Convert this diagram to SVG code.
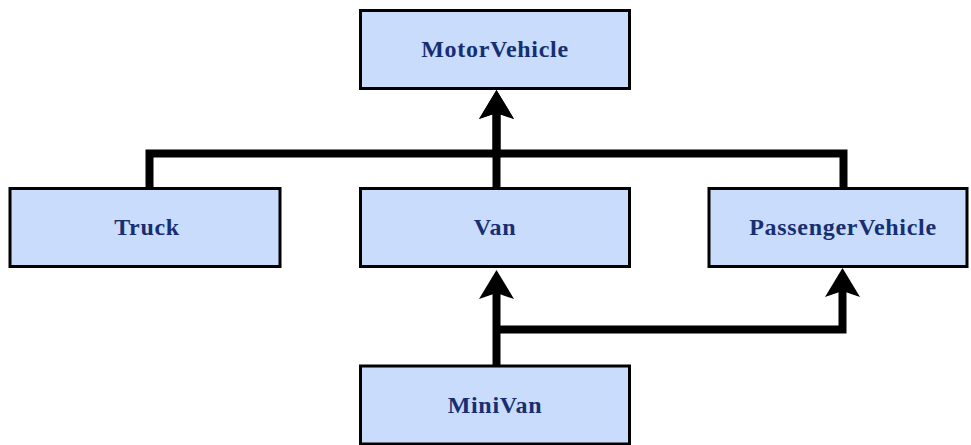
<svg xmlns="http://www.w3.org/2000/svg" width="971" height="445" viewBox="0 0 971 445">
  <style>
    .box { fill: #c9dcfc; stroke: #000000; stroke-width: 3; }
    .lbl { font-family: "Liberation Serif", "Times New Roman", serif; font-weight: bold; font-size: 24px; letter-spacing: 0.7px; fill: #172f72; text-anchor: middle; }
    .edge { fill: none; stroke: #000000; stroke-width: 8; stroke-linejoin: miter; stroke-linecap: butt; }
  </style>
  <defs>
    <marker id="arr" markerUnits="userSpaceOnUse" markerWidth="32" markerHeight="38" viewBox="0 -19 32 38" refX="6" refY="0" orient="auto">
      <path d="M29,0 L0,-17.5 L6,0 L0,17.5 Z" fill="#000000"/>
    </marker>
  </defs>
  <rect width="971" height="445" fill="#ffffff"/>
  <g id="connectors">
    <path class="edge" d="M149.5,188 V153.5 H496.5 V113" marker-end="url(#arr)"/>
    <path class="edge" d="M496.5,188 V113" marker-end="url(#arr)"/>
    <path class="edge" d="M843.5,188 V153.5 H496.5"/>
    <path class="edge" d="M496.5,366 V293" marker-end="url(#arr)"/>
    <path class="edge" d="M496.5,329.5 H842.5 V291" marker-end="url(#arr)"/>
  </g>
  <g id="MotorVehicle">
    <rect class="box" x="360.5" y="10.5" width="269" height="78"/>
    <text class="lbl" x="495" y="57">MotorVehicle</text>
  </g>
  <g id="Truck">
    <rect class="box" x="10" y="188.5" width="270" height="78"/>
    <text class="lbl" x="147" y="235">Truck</text>
  </g>
  <g id="Van">
    <rect class="box" x="360.5" y="188.5" width="269" height="78"/>
    <text class="lbl" x="495" y="235">Van</text>
  </g>
  <g id="PassengerVehicle">
    <rect class="box" x="709" y="188.5" width="258" height="78"/>
    <text class="lbl" x="843" y="235">PassengerVehicle</text>
  </g>
  <g id="MiniVan">
    <rect class="box" x="360.5" y="366" width="269" height="78"/>
    <text class="lbl" x="495" y="413">MiniVan</text>
  </g>
</svg>
